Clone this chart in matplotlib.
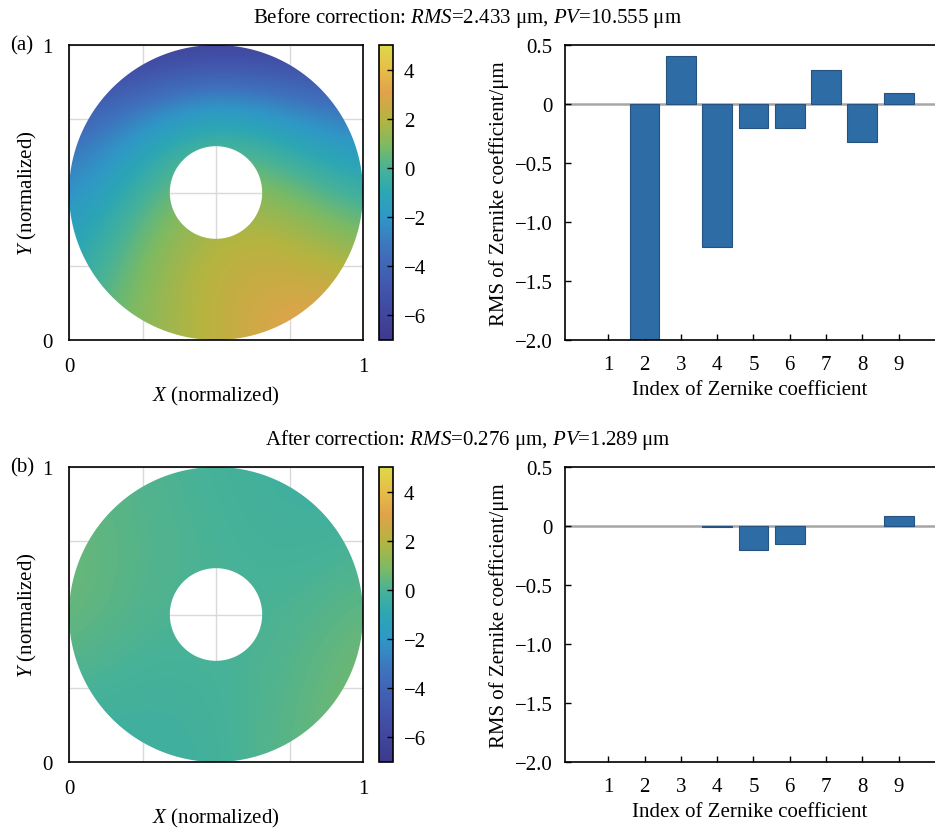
import numpy as np
import matplotlib
matplotlib.use("Agg")
import matplotlib.pyplot as plt
from matplotlib.colors import LinearSegmentedColormap
from matplotlib.path import Path
from matplotlib.patches import PathPatch

plt.rcParams['font.family'] = ['Liberation Serif', 'DejaVu Serif']
plt.rcParams['mathtext.fontset'] = 'custom'
plt.rcParams['mathtext.rm'] = 'Liberation Serif'
plt.rcParams['mathtext.it'] = 'Liberation Serif:italic'
plt.rcParams['font.size'] = 15

# Zernike coefficients
zernike_index = [1, 2, 3, 4, 5, 6, 7, 8, 9]
coef_before = [0.0, -2.03, 0.41, -1.21, -0.20, -0.20, 0.29, -0.32, 0.09]
coef_after = [0.0, 0.0, 0.0, -0.01, -0.20, -0.155, 0.0, 0.0, 0.083]

# wavefront samples on a 5x5 grid (x = 0..1 left->right, rows y = 1..0 top->bottom)
grid_x = [0.0, 0.25, 0.5, 0.75, 1.0]
wave_before = [
    [-7.0, -7.0, -6.8, -6.8, -6.5],
    [-4.3, -2.2, -0.3, -1.8, -3.0],
    [-2.5, 0.1, 1.5, 1.0, -0.5],
    [-1.1, 1.1, 2.4, 2.6, 1.7],
    [-0.1, 1.3, 2.1, 3.3, 3.8],
]
wave_after = [
    [0.4, 0.1, -0.1, -0.3, -0.3],
    [0.6, 0.2, 0.0, -0.2, -0.1],
    [0.6, 0.1, 0.0, 0.0, 0.5],
    [0.0, -0.2, -0.1, 0.2, 0.8],
    [-0.3, -0.4, -0.2, 0.3, 0.9],
]
titles = [r"Before correction: $\mathit{RMS}$=2.433 μm, $\mathit{PV}$=10.555 μm",
          r"After correction: $\mathit{RMS}$=0.276 μm, $\mathit{PV}$=1.289 μm"]
panel_tags = ["(a)", "(b)"]

# parula-like colormap, a bit washed out like the figure
cmap = LinearSegmentedColormap.from_list("parula_like", [
    (0.00, "#3D3A8C"), (0.15, "#4250A8"), (0.30, "#3F70BC"), (0.42, "#2F98C6"),
    (0.50, "#2CA6B4"), (0.58, "#47B298"), (0.66, "#7DBA62"), (0.75, "#B5B440"),
    (0.84, "#E0A24A"), (0.92, "#E6BE48"), (1.00, "#DDD84A")])


def annulus_path(r_out=0.5, r_in=0.157, n=400):
    t = np.linspace(0, 2 * np.pi, n)
    outer = np.column_stack([0.5 + r_out * np.cos(t), 0.5 + r_out * np.sin(t)])
    inner = np.column_stack([0.5 + r_in * np.cos(t[::-1]), 0.5 + r_in * np.sin(t[::-1])])
    verts = np.vstack([outer, inner])
    codes = ([Path.MOVETO] + [Path.LINETO] * (n - 2) + [Path.CLOSEPOLY]) * 2
    return Path(verts, codes)


W, H = 935, 829
fig = plt.figure(figsize=(W / 100, H / 100), dpi=100)


def fx(px):
    return px / W


def fy(py):
    return 1 - py / H


rows = [(46, 341), (468, 763)]
for k, (top, bot) in enumerate(rows):
    wave = wave_before if k == 0 else wave_after
    coefs = coef_before if k == 0 else coef_after
    hgt = (bot - top) / H

    # wavefront map
    ax = fig.add_axes([fx(69), fy(bot), fx(363) - fx(69), hgt])
    step = grid_x[1] - grid_x[0]
    im = ax.imshow(np.array(wave), cmap=cmap, vmin=-7, vmax=5, interpolation='bicubic',
                   extent=[grid_x[0] - step / 2, grid_x[-1] + step / 2,
                           grid_x[0] - step / 2, grid_x[-1] + step / 2],
                   origin='upper', zorder=2, aspect='auto')
    clip = PathPatch(annulus_path(), transform=ax.transData, facecolor='none', edgecolor='none')
    ax.add_patch(clip)
    im.set_clip_path(clip)
    ax.set_xlim(0, 1)
    ax.set_ylim(0, 1)
    ax.set_xticks([0, 0.25, 0.5, 0.75, 1])
    ax.set_yticks([0, 0.25, 0.5, 0.75, 1])
    ax.set_xticklabels(["0", "", "", "", "1"])
    ax.set_yticklabels(["0", "", "", "", "1"])
    ax.tick_params(length=0, pad=12)
    ax.grid(True, color='#D9D9D9', lw=1)
    ax.set_axisbelow(True)
    for s in ax.spines.values():
        s.set_linewidth(1.2)
    ax.set_xlabel(r"$\mathit{X}$ (normalized)", labelpad=6)
    ax.set_ylabel(r"$\mathit{Y}$ (normalized)", labelpad=2)

    # colorbar
    cax = fig.add_axes([fx(379), fy(bot), fx(393) - fx(379), hgt])
    cb = fig.colorbar(im, cax=cax, ticks=[-6, -4, -2, 0, 2, 4])
    cb.outline.set_linewidth(1.2)
    cax.tick_params(direction='in', length=4, width=1, pad=8)

    # zernike bars
    bx = fig.add_axes([fx(565), fy(bot), 1 - fx(565), hgt])
    bx.axhline(0, color='#A6A6A6', lw=1.8, zorder=1)
    edge_w = [0.8 if v != 0 else 0 for v in coefs]
    bx.bar(zernike_index, coefs, width=0.82, color='#2E6CA6', edgecolor='#25527E',
           linewidth=edge_w, zorder=2)
    bx.set_xlim(-0.19, 10.0)
    bx.set_ylim(-2.0, 0.5)
    bx.set_xticks(zernike_index)
    bx.set_yticks([-2.0, -1.5, -1.0, -0.5, 0, 0.5])
    bx.set_yticklabels(["\u22122.0", "\u22121.5", "\u22121.0", "\u22120.5", "0", "0.5"])
    bx.tick_params(direction='in', length=4, width=1)
    bx.tick_params(axis='x', pad=11)
    bx.tick_params(axis='y', pad=9)
    bx.spines['right'].set_visible(False)
    for s in ['left', 'bottom', 'top']:
        bx.spines[s].set_linewidth(1.2)
    bx.set_xlabel("Index of Zernike coefficient", labelpad=4)
    bx.set_ylabel("RMS of Zernike coefficient/μm", labelpad=4)

    fig.text(0.5, fy(top - 28), titles[k], ha='center', va='center')
    fig.text(fx(10), fy(top), panel_tags[k], ha='left', va='center')

fig.savefig("out.png", dpi=100)
